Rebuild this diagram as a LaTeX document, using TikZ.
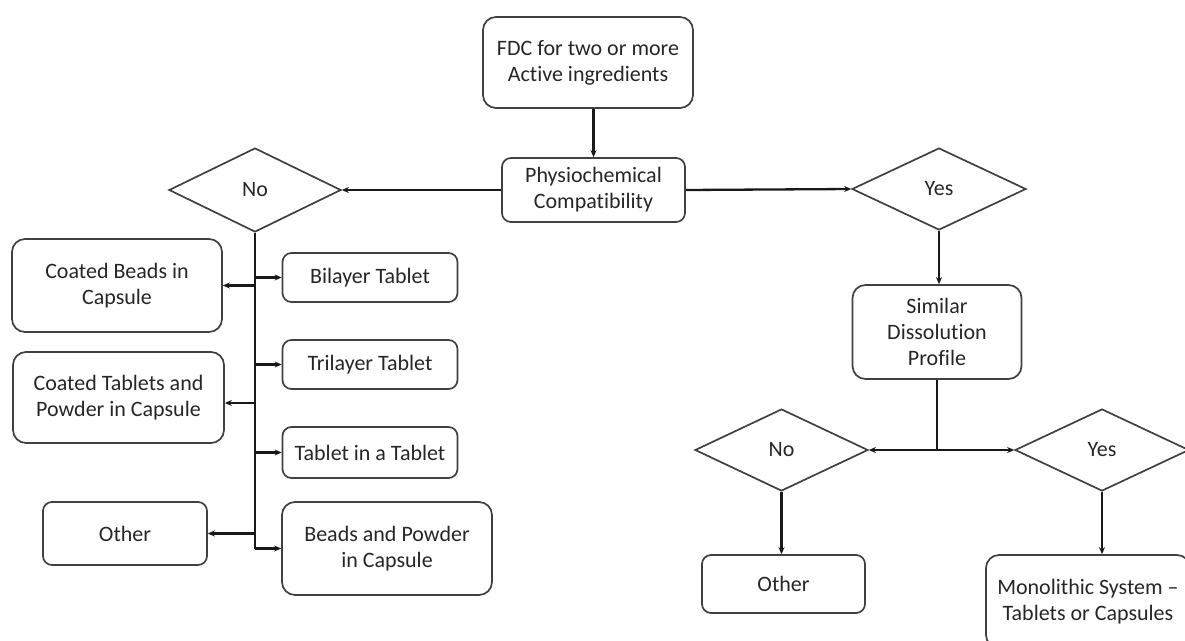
\documentclass[tikz,border=0pt]{standalone}
\usepackage{fontspec}
\setmainfont{Carlito}[Ligatures=NoCommon]
\usetikzlibrary{shapes.geometric,arrows.meta}

\begin{document}
\begin{tikzpicture}[x=1pt,y=-1pt,
  txt/.style={text=black!85, align=center, font=\fontsize{22}{26}\selectfont},
  box/.style={txt, draw=black!75, line width=1.7pt, rounded corners=13pt, inner sep=0pt},
  smallbox/.style={box, rounded corners=9pt},
  choice/.style={txt, draw=black!75, line width=1.7pt, diamond, inner sep=0pt},
  arr/.style={line width=2.3pt, black!90, -{Stealth[length=7pt,width=6pt]}},
  link/.style={line width=2.6pt, black!90}]

\useasboundingbox (0,0) rectangle (1185,640);

% top of the tree
\node[box, minimum width=210pt, minimum height=91pt] (fdc) at (588,62.5) {FDC for two or more\\Active ingredients};
\node[smallbox, minimum width=183pt, minimum height=64pt] (phys) at (593.5,190) {Physiochemical\\Compatibility};

% first decision
\node[choice, minimum width=172pt, minimum height=84pt] (no1) at (255,190) {No};
\node[choice, minimum width=174pt, minimum height=82pt] (yes1) at (939,189) {Yes};

% incompatible branch: outcomes on both sides of the trunk
\node[box, minimum width=210pt, minimum height=93pt] (cbc) at (117,285.5) {Coated Beads in\\Capsule};
\node[box, minimum width=211pt, minimum height=91pt] (ctp) at (118.5,397.5) {Coated Tablets and\\Powder in Capsule};
\node[smallbox, minimum width=164pt, minimum height=63pt] (oth1) at (125,533.5) {Other};
\node[smallbox, minimum width=175pt, minimum height=49pt] (bil) at (370,277.5) {Bilayer Tablet};
\node[smallbox, minimum width=175pt, minimum height=49pt] (tri) at (370,364.5) {Trilayer Tablet};
\node[smallbox, minimum width=175pt, minimum height=51pt] (tit) at (370,452.5) {Tablet in a Tablet};
\node[box, minimum width=210pt, minimum height=93pt] (bpc) at (387,548.5) {Beads and Powder\\in Capsule};

% compatible branch
\node[box, minimum width=169pt, minimum height=94pt] (sim) at (937,332) {Similar\\Dissolution\\Profile};
\node[choice, minimum width=173pt, minimum height=82pt] (no2) at (781.5,450) {No};
\node[choice, minimum width=174pt, minimum height=82pt] (yes2) at (1102,450) {Yes};
\node[smallbox, minimum width=163pt, minimum height=58pt] (oth2) at (783.5,584) {Other};
\node[box, minimum width=204pt, minimum height=93pt] (mono) at (1088,601.5) {Monolithic System –\\Tablets or Capsules};

% connectors
\draw[arr] (fdc.south -| phys.north) -- (phys.north);
\draw[arr] (phys.west) -- (no1.east);
\draw[arr] (phys.east) -- (yes1.west);
\draw[arr] (yes1.south) -- (yes1.south |- sim.north);

% trunk under the first "No"
\coordinate (tr) at (no1.south);
\draw[link] (tr) -- (tr |- bpc.west);
\draw[arr] (tr |- bpc.west) -- (bpc.west);
\draw[arr] (tr |- bil.west) -- (bil.west);
\draw[arr] (tr |- tri.west) -- (tri.west);
\draw[arr] (tr |- tit.west) -- (tit.west);
\draw[arr] (tr |- cbc.east) -- (cbc.east);
\draw[arr] (tr |- 0,403) -- (ctp.east |- 0,403);
\draw[arr] (tr |- oth1.east) -- (oth1.east);

% split under the dissolution question
\coordinate (j) at (sim.south |- no2.east);
\draw[link] (sim.south) -- (j);
\draw[arr] (j) -- (no2.east);
\draw[arr] (j) -- (yes2.west);
\draw[arr] (no2.south) -- (no2.south |- oth2.north);
\draw[arr] (yes2.south) -- (yes2.south |- mono.north);
\end{tikzpicture}
\end{document}
